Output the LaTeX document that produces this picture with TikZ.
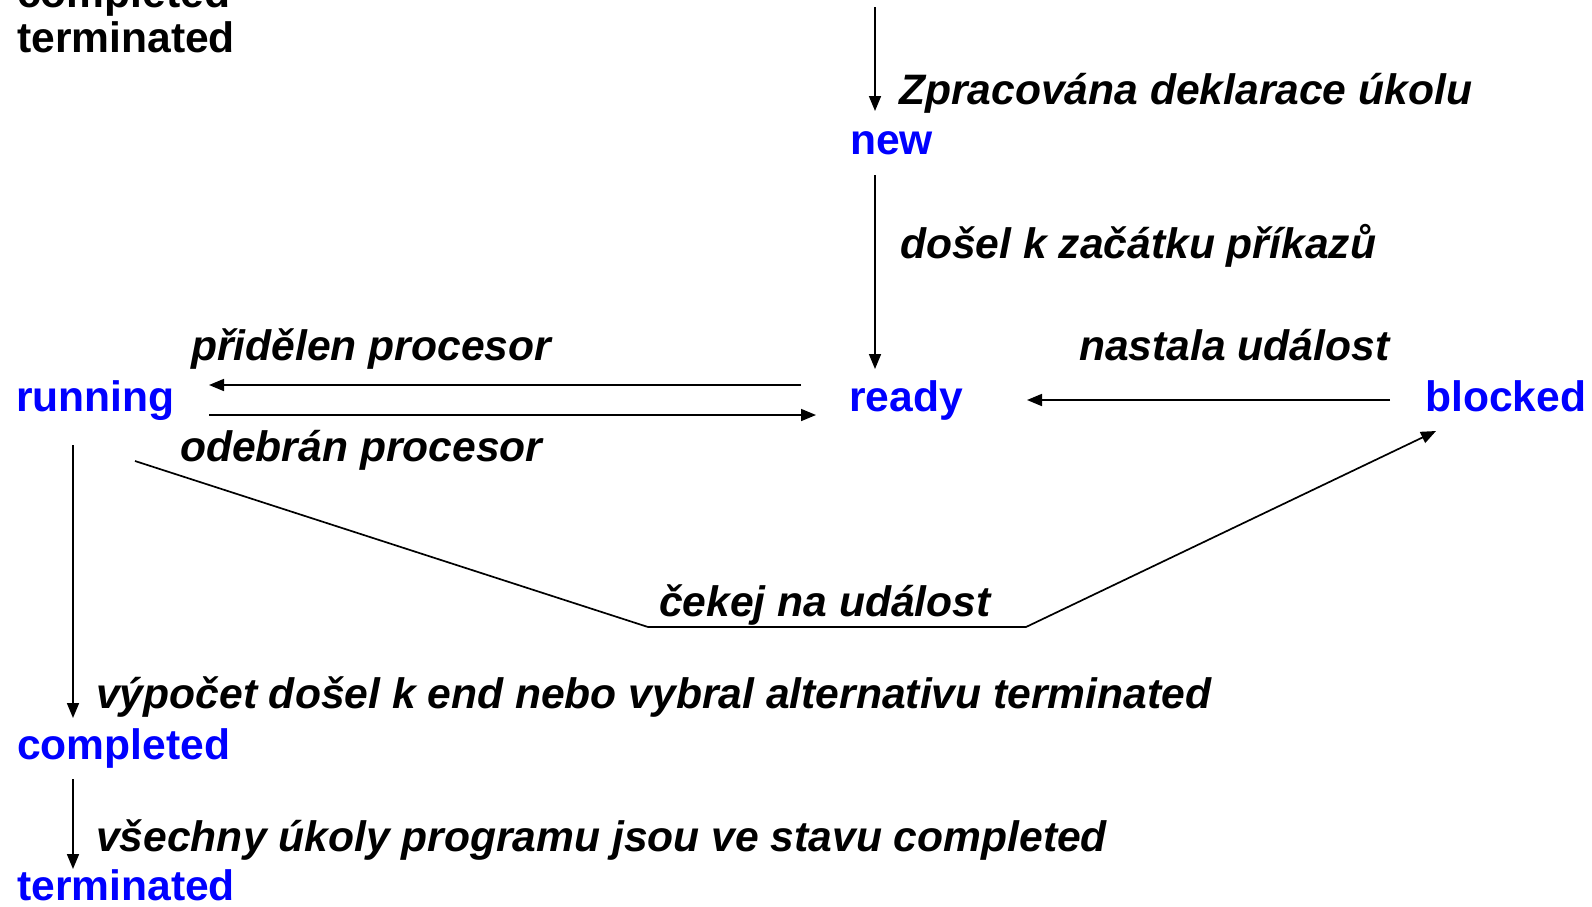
\documentclass[tikz,border=0pt]{standalone}
\usepackage{fontspec}
\setmainfont{Liberation Sans}
\usetikzlibrary{arrows.meta}
\definecolor{stateblue}{RGB}{0,0,255}
\tikzset{
  state/.style={font=\fontsize{42.6}{48}\selectfont\bfseries, text=stateblue, inner sep=0pt, anchor=base west},
  lbl/.style={font=\fontsize{42.6}{48}\selectfont\bfseries\itshape, text=black, inner sep=0pt, anchor=base west},
  plain/.style={font=\fontsize{42.6}{48}\selectfont\bfseries, text=black, inner sep=0pt, anchor=base west},
  arr/.style={line width=1.7pt, -{Triangle[length=15pt,width=12pt]}},
}
\begin{document}
\begin{tikzpicture}[x=1pt,y=-1pt]
\useasboundingbox (0,0) rectangle (1592,906);
% top-left (cut) text
\node[plain] (oldc) at (17,7) {completed};
\node[plain] (oldt) at (17,52) {terminated};
% states
\node[state] (new) at (850,154) {new};
\node[state] (ready) at (849,411) {ready};
\node[state] (running) at (16,411) {running};
\node[state] (blocked) at (1425,411) {blocked};
\node[state] (completed) at (17,759) {completed};
\node[state] (terminated) at (17,900) {terminated};
% labels
\node[lbl] (l1) at (899,104) {Zpracována deklarace úkolu};
\node[lbl] (l2) at (900,258) {došel k začátku příkazů};
\node[lbl] (l3) at (191,360) {přidělen procesor};
\node[lbl] (l4) at (180,461) {odebrán procesor};
\node[lbl] (l5) at (1079,360) {nastala událost};
\node[lbl] (l6) at (659,616) {čekej na událost};
\node[lbl] (l7) at (96,708) {výpočet došel k end nebo vybral alternativu terminated};
\node[lbl] (l8) at (96,851) {všechny úkoly programu jsou ve stavu completed};
% coordinates
\coordinate (s0) at (875,7);
\coordinate (n0) at (875,111);
\coordinate (n1) at (875,175);
\coordinate (r0) at (875,369);
\coordinate (ra) at (801,385);
\coordinate (ru) at (209,385);
\coordinate (rb) at (209,415);
\coordinate (rr) at (816,415);
\coordinate (b0) at (1390,400);
\coordinate (r1) at (1027,400);
\coordinate (w0) at (135,461);
\coordinate (w1) at (648,627);
\coordinate (w2) at (1026,627);
\coordinate (w3) at (1436,431);
\coordinate (c0) at (73,445);
\coordinate (c1) at (73,718);
\coordinate (t0) at (73,779);
\coordinate (t1) at (73,869);
% connectors
\draw[arr] (s0) -- (n0);
\draw[arr] (n1) -- (r0);
\draw[arr] (ra) -- (ru);
\draw[arr] (rb) -- (rr);
\draw[arr] (b0) -- (r1);
\draw[arr] (w0) -- (w1) -- (w2) -- (w3);
\draw[arr] (c0) -- (c1);
\draw[arr] (t0) -- (t1);
\end{tikzpicture}
\end{document}
